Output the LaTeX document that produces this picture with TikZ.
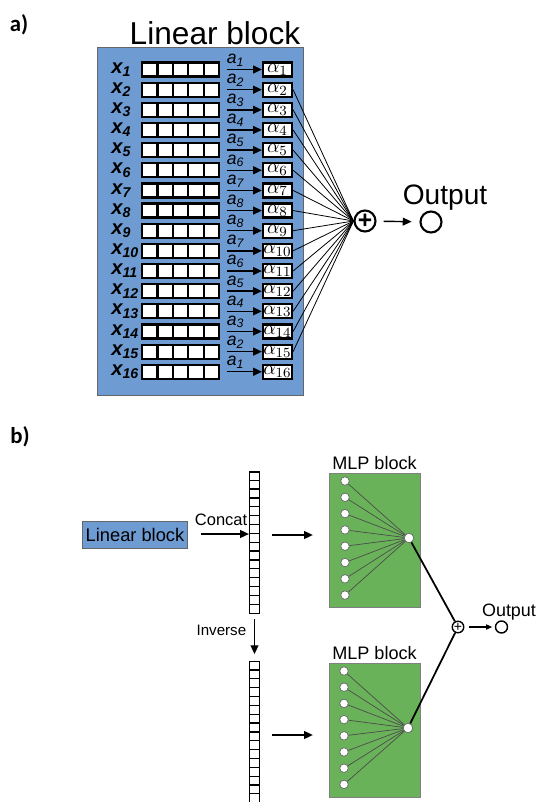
\documentclass[tikz,border=0pt]{standalone}
\usepackage{amsmath}
\usepackage{fontspec}
\setmainfont{Liberation Sans}
\newfontfamily\panelfont{Carlito}
\usetikzlibrary{arrows.meta}
\definecolor{blockblue}{RGB}{110,155,210}
\definecolor{blockgreen}{RGB}{106,178,90}

\begin{document}
\begin{tikzpicture}[x=0.02cm, y=-0.02cm,
    cell/.style={rectangle, draw, line width=1.25pt, fill=white, minimum width=0.308cm, minimum height=0.28cm, inner sep=0pt},
    weight/.style={rectangle, draw, line width=1.25pt, fill=white, minimum width=0.58cm, minimum height=0.28cm, inner sep=0pt, font=\fontsize{11}{11}\selectfont},
    block/.style={rectangle, draw=black!60, fill=blockblue, inner sep=0pt},
    mlp/.style={rectangle, draw=black!50, fill=blockgreen, minimum width=1.82cm, minimum height=2.68cm, inner sep=0pt},
    unit/.style={circle, draw=black!60, fill=white, minimum size=0.17cm, inner sep=0pt},
    sumnode/.style={circle, draw, line width=1.2pt, minimum size=0.42cm, inner sep=0pt},
    outnode/.style={circle, draw, line width=1.2pt, minimum size=0.42cm, inner sep=0pt},
    arrow/.style={-{Triangle[length=5pt, width=4.5pt]}, line width=0.8pt}
]
  \useasboundingbox (0,0) rectangle (537,802);

  % a) linear block
  \node[font=\panelfont\bfseries\fontsize{13}{13}\selectfont] (tagA) at (19,25) {a)};
  \node[block, minimum width=4.12cm, minimum height=6.96cm] (lin) at (200,221) {};
  \node[font=\fontsize{18}{18}\selectfont] (linTitle) at (215,33) {Linear block};

  \foreach \i/\k in {1/1,2/2,3/3,4/4,5/5,6/6,7/7,8/8,9/8,10/7,11/6,12/5,13/4,14/3,15/2,16/1} {
    \pgfmathsetmacro\ry{69.5+(\i-1)*20.15}
    \node[anchor=west, inner sep=0pt, font=\fontsize{11.5}{11.5}\selectfont\bfseries\itshape] (x\i) at (111,\ry) {x\textsubscript{\i}};
    \foreach \j in {0,...,4}
      \node[cell] (c\i-\j) at ({149.7+\j*15.4},\ry) {};
    \node[weight] (alpha\i) at (277.5,\ry) {$\alpha_{\i}$};
    \draw[arrow, line width=0.8pt, -{Triangle[length=5pt, width=4.5pt]}] (227,\ry) coordinate (w\i) -- (alpha\i.west);
    \node[anchor=south west, inner sep=0pt, font=\fontsize{10}{10}\selectfont\itshape] (a\i) at (226.5,{\ry-3}) {a\textsubscript{\k}};
  }

  \node[sumnode, font=\fontsize{14}{14}\selectfont\bfseries] (sum) at (365,221) {+};
  \foreach \i in {2,...,15}
    \draw[line width=0.45pt] (alpha\i.east) -- (sum.west);
  \node[outnode] (out) at (431,222) {};
  \draw[arrow, shorten <=4pt, shorten >=4.5pt] (sum) -- (out);
  \node[font=\fontsize{16}{16}\selectfont] (outLabel) at (445,198) {Output};

  % b) two MLP blocks
  \node[font=\panelfont\bfseries\fontsize{13}{13}\selectfont] (tagB) at (20,437) {b)};
  \node[block, minimum width=2.1cm, minimum height=0.54cm, font=\fontsize{10.4}{10.4}\selectfont] (linSmall) at (135,535) {Linear block};

  \node[rectangle, draw, line width=0.7pt, minimum width=0.2cm, minimum height=2.832cm, inner sep=0pt] (vecA) at (254.5,542.8) {};
  \node[rectangle, draw, line width=0.7pt, minimum width=0.2cm, minimum height=2.832cm, inner sep=0pt] (vecB) at (254.5,732.5) {};
  \foreach \k in {1,...,15} {
    \draw[line width=0.7pt] ([yshift={-\k*0.177cm}]vecA.north west) -- ([yshift={-\k*0.177cm}]vecA.north east);
    \draw[line width=0.7pt] ([yshift={-\k*0.177cm}]vecB.north west) -- ([yshift={-\k*0.177cm}]vecB.north east);
  }

  \coordinate (cat) at (201,534);
  \draw[arrow] (cat) -- (cat -| vecA.west) node[pos=0.42, above=1pt, font=\fontsize{9.4}{9.4}\selectfont] {Concat};
  \draw[arrow, shorten <=3pt, shorten >=4pt] (vecA.south) -- (vecB.north) node[pos=0.35, left=1pt, font=\fontsize{8.6}{8.6}\selectfont] {Inverse};

  \node[mlp] (mlpA) at (374.5,540) {};
  \node[mlp] (mlpB) at (374.5,730.5) {};
  \node[font=\fontsize{10.3}{10.3}\selectfont] (mlpLabelA) at (374.5,463) {MLP block};
  \node[font=\fontsize{10.3}{10.3}\selectfont] (mlpLabelB) at (374.5,653) {MLP block};

  \coordinate (inA) at (272,535);
  \coordinate (inB) at (272,735);
  \draw[arrow, shorten >=9pt] (inA) -- (inA -| mlpA.west);
  \draw[arrow, shorten >=9pt] (inB) -- (inB -| mlpB.west);

  \node[unit, minimum size=0.19cm] (hidA) at (409,538) {};
  \node[unit, minimum size=0.19cm] (hidB) at (408,728) {};
  \foreach \k in {1,...,8} {
    \node[unit] (uA\k) at (345,{481+(\k-1)*16.3}) {};
    \node[unit] (uB\k) at (344,{671+(\k-1)*16.2}) {};
    \draw[line width=0.4pt, black!70] (uA\k) -- (hidA);
    \draw[line width=0.4pt, black!70] (uB\k) -- (hidB);
  }

  \node[circle, draw, line width=0.8pt, minimum size=0.22cm, inner sep=0pt, font=\fontsize{8}{8}\selectfont] (sumB) at (458,627) {+};
  \draw[line width=1pt] (hidA) -- (sumB);
  \draw[line width=1pt] (hidB) -- (sumB);
  \node[circle, draw, line width=0.8pt, minimum size=0.24cm, inner sep=0pt] (outB) at (501.5,627) {};
  \draw[-{Triangle[length=3.5pt, width=3pt]}, line width=0.6pt, shorten <=2.5pt, shorten >=1.5pt] (sumB) -- (outB);
  \node[font=\fontsize{10.2}{10.2}\selectfont] (outLabelB) at (509,612) {Output};
\end{tikzpicture}
\end{document}
